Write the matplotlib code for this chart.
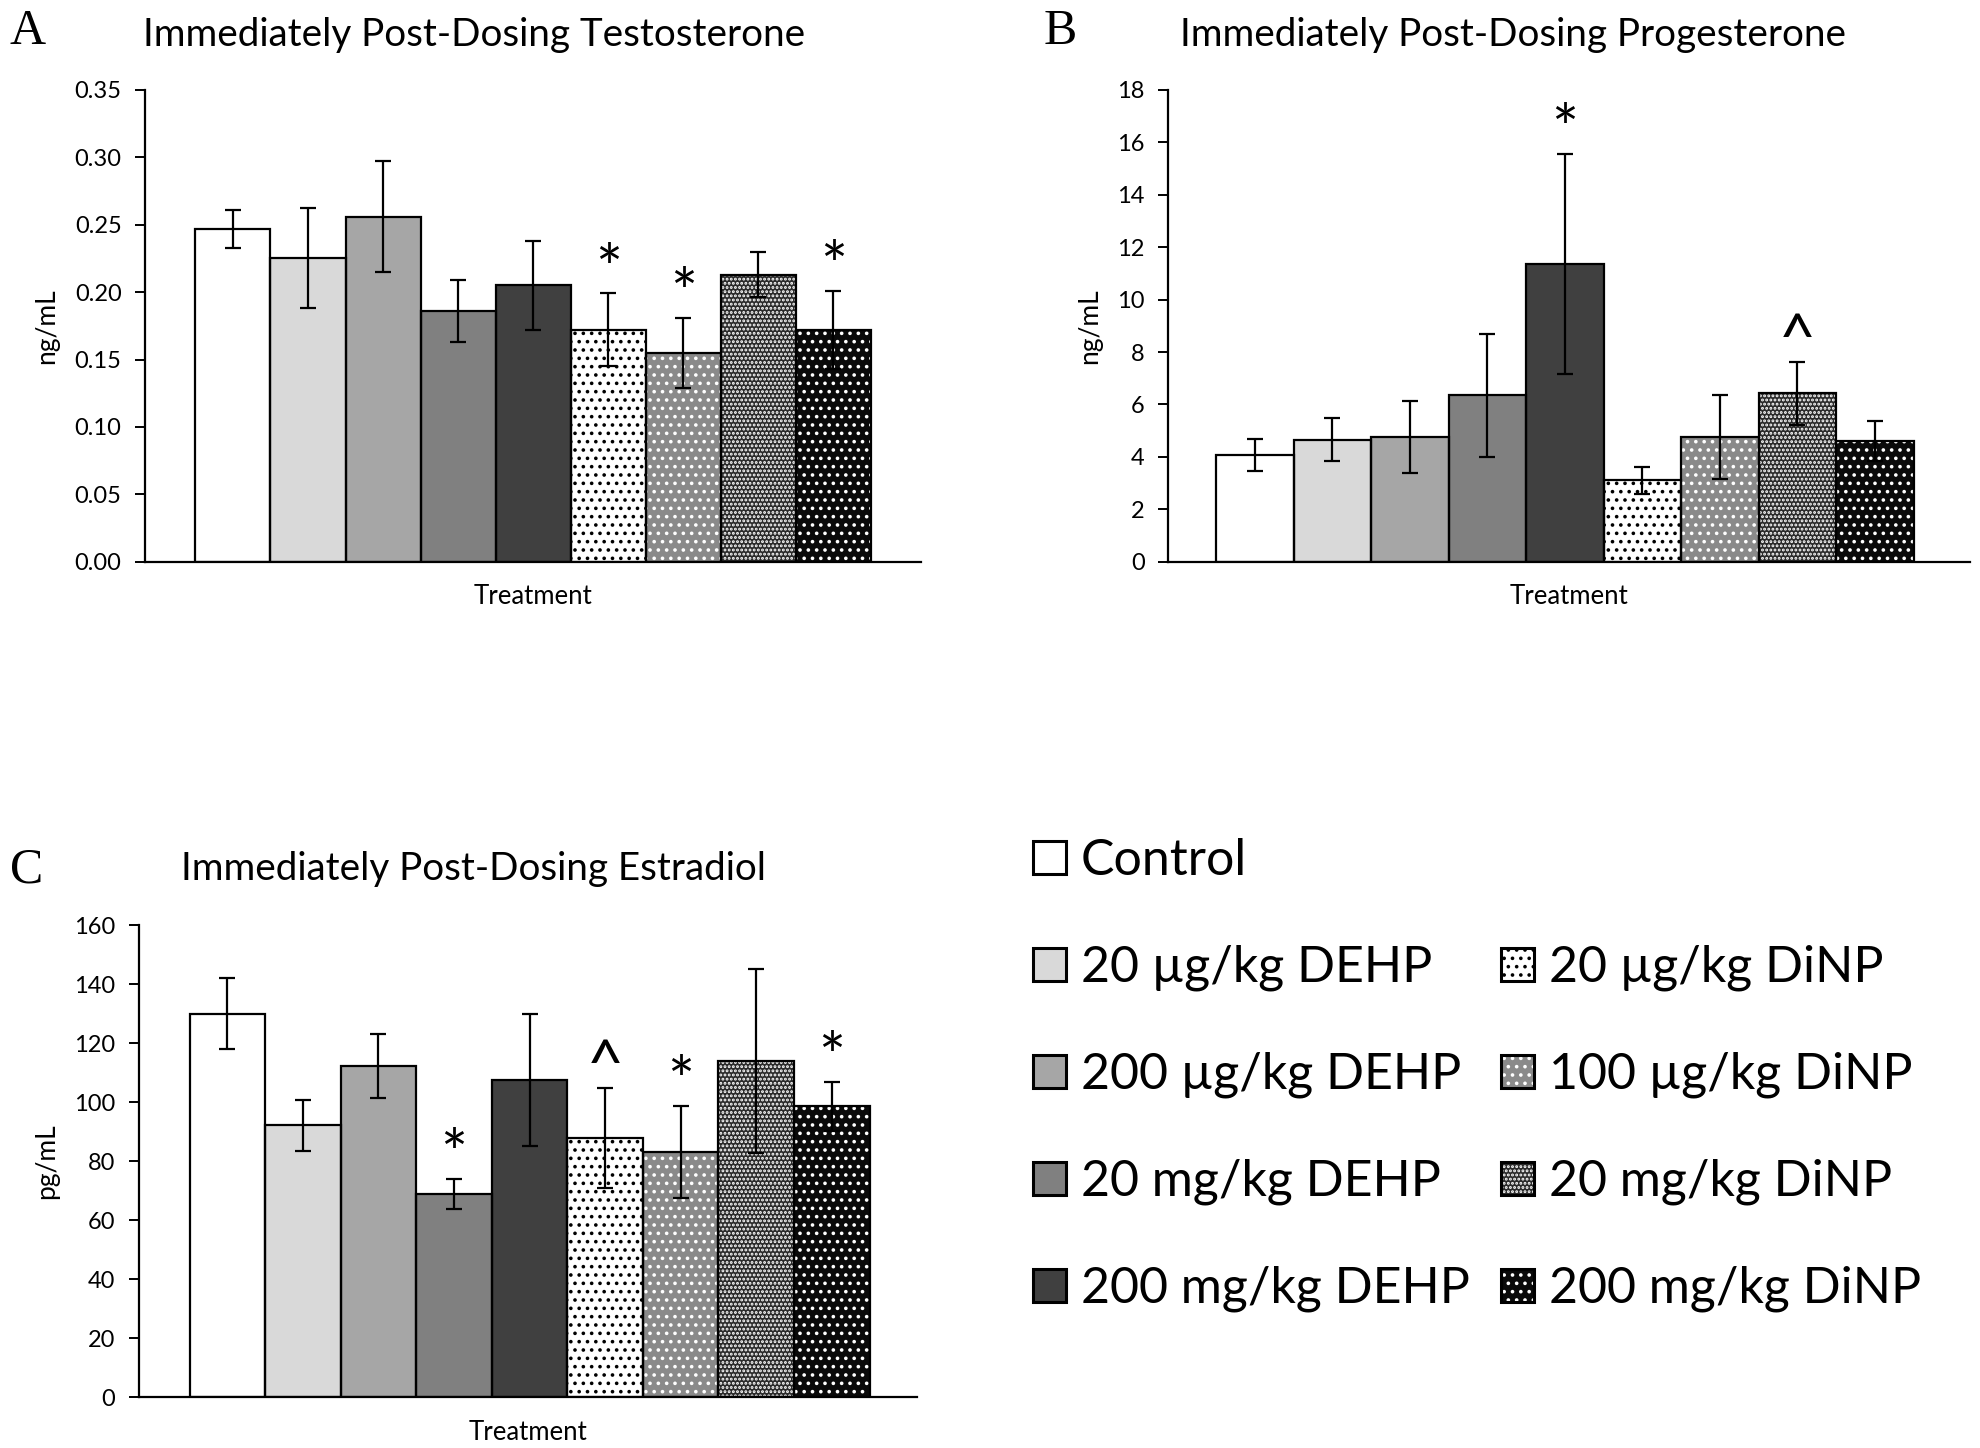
import numpy as np
import matplotlib
matplotlib.use("Agg")
import matplotlib.pyplot as plt
from matplotlib.patches import Patch
from matplotlib.ticker import FormatStrFormatter

plt.rcParams['font.family'] = ['Lato', 'DejaVu Sans']
plt.rcParams['hatch.linewidth'] = 1.4

groups = ['Control', '20 µg/kg DEHP', '200 µg/kg DEHP', '20 mg/kg DEHP', '200 mg/kg DEHP',
          '20 µg/kg DiNP', '100 µg/kg DiNP', '20 mg/kg DiNP', '200 mg/kg DiNP']

# testosterone, ng/mL
testo_mean = [0.247, 0.225, 0.256, 0.186, 0.205, 0.172, 0.155, 0.213, 0.172]
testo_err = [0.014, 0.037, 0.041, 0.023, 0.033, 0.027, 0.026, 0.017, 0.029]
testo_sig = ['', '', '', '', '', '*', '*', '', '*']

# progesterone, ng/mL
prog_mean = [4.07, 4.65, 4.75, 6.35, 11.36, 3.11, 4.75, 6.43, 4.60]
prog_err = [0.62, 0.82, 1.38, 2.35, 4.2, 0.52, 1.6, 1.2, 0.77]
prog_sig = ['', '', '', '', '*', '', '', '^', '']

# estradiol, pg/mL
estr_mean = [130.0, 92.2, 112.3, 69.0, 107.6, 87.8, 83.1, 114.0, 98.6]
estr_err = [12.0, 8.6, 11.0, 5.0, 22.4, 17.0, 15.6, 31.3, 8.4]
estr_sig = ['', '', '', '*', '', '^', '*', '', '*']

# fill, hatch, hatch colour for each group
fills = ['white', '#d9d9d9', '#a6a6a6', '#808080', '#404040',
         'white', '#8a8a8a', '#2b2b2b', '#0a0a0a']
hatches = ['', '', '', '', '', '..', '..', '....', '..']
hatch_cols = ['white', 'white', 'white', 'white', 'white',
              'black', 'white', 'white', 'white']


def panel(rect, mean, err, sig, ticks, fmt, ylabel, xlim):
    ax = fig.add_axes(rect)
    x = np.arange(len(mean))
    for i in x:
        ax.bar(i, mean[i], width=1.0, color=fills[i], hatch=hatches[i],
               edgecolor=hatch_cols[i], linewidth=0, zorder=1)
    ax.bar(x, mean, width=1.0, fill=False, edgecolor='black', linewidth=1.6, zorder=2)
    ax.errorbar(x, mean, yerr=err, fmt='none', ecolor='black', elinewidth=1.6,
                capsize=5.5, capthick=1.6, zorder=3)
    for i in x:
        if sig[i]:
            ax.annotate(sig[i], (i, mean[i] + err[i]), xytext=(0, 2),
                        textcoords='offset points', ha='center', va='baseline',
                        fontsize=46)
    ax.set_xlim(*xlim)
    ax.set_ylim(ticks[0], ticks[-1])
    ax.set_yticks(ticks)
    ax.yaxis.set_major_formatter(FormatStrFormatter(fmt))
    ax.set_xticks([])
    ax.spines[['top', 'right']].set_visible(False)
    ax.spines[['left', 'bottom']].set_linewidth(1.6)
    ax.tick_params(axis='y', labelsize=17, length=7, width=1.4, pad=10)
    ax.set_xlabel('Treatment', fontsize=18.5, labelpad=16)
    ax.set_ylabel(ylabel, fontsize=19, labelpad=11)
    return ax


fig = plt.figure(figsize=(19.8, 14.48), dpi=100)

panel([0.0733, 0.612, 0.392, 0.326], testo_mean, testo_err, testo_sig,
      np.arange(0, 0.351, 0.05), '%.2f', 'ng/mL', (-1.17, 9.17))
panel([0.590, 0.612, 0.405, 0.326], prog_mean, prog_err, prog_sig,
      np.arange(0, 19, 2), '%d', 'ng/mL', (-1.12, 9.23))
panel([0.0702, 0.035, 0.393, 0.326], estr_mean, estr_err, estr_sig,
      np.arange(0, 161, 20), '%d', 'pg/mL', (-1.17, 9.13))

title_kw = dict(fontsize=27.8, ha='left', va='center')
fig.text(0.0721, 0.976, 'Immediately Post-Dosing Testosterone', **title_kw)
fig.text(0.596, 0.976, 'Immediately Post-Dosing Progesterone', **title_kw)
fig.text(0.0912, 0.400, 'Immediately Post-Dosing Estradiol', **title_kw)

letter_kw = dict(fontsize=36, ha='left', va='center', family='Liberation Serif')
fig.text(0.005, 0.978, 'A', **letter_kw)
fig.text(0.527, 0.978, 'B', **letter_kw)
fig.text(0.005, 0.399, 'C', **letter_kw)

handles, labels = [], []
for i, g in enumerate(groups):
    base = Patch(facecolor=fills[i], hatch=hatches[i], edgecolor=hatch_cols[i], linewidth=0)
    outline = Patch(facecolor='none', edgecolor='black', linewidth=2.2)
    handles.append((base, outline))
    labels.append(g)
    if i == 0:
        handles.append(Patch(visible=False))
        labels.append('')
# Control + DEHP in the first column, a blank slot, then DiNP in the second
order = [0, 2, 3, 4, 5, 1, 6, 7, 8, 9]
handles = [handles[k] for k in order]
labels = [labels[k] for k in order]

fig.legend(handles, labels, loc='upper left', bbox_to_anchor=(0.5116, 0.435),
           ncol=2, frameon=False, fontsize=36, handlelength=0.66, handleheight=0.64,
           handletextpad=0.3, columnspacing=0.62, labelspacing=1.21, borderaxespad=0)

fig.savefig('out.png', dpi=100)
